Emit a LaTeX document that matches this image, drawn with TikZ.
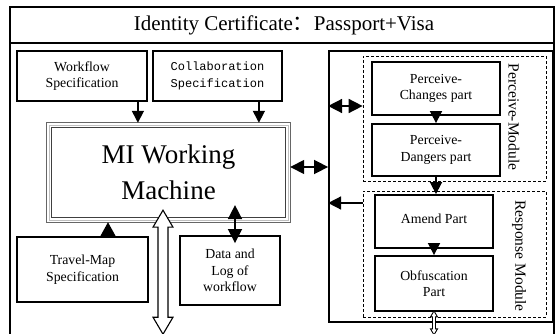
\documentclass[tikz,border=0pt]{standalone}
\usepackage{fontspec}
\setmainfont{Liberation Serif}
\newfontfamily\monofnt{Liberation Mono}
\newfontfamily\cjk{Noto Sans CJK SC}
\usetikzlibrary{arrows.meta,calc}
\begin{document}
\begin{tikzpicture}[x=1pt,y=-1pt,
  box/.style={draw,line width=1.8pt,fill=white,align=center,inner sep=0pt,
    font=\fontsize{13.8}{16.5}\selectfont},
  dbox/.style={draw,densely dashed,line width=0.7pt,inner sep=0pt},
  arr/.style={-{Triangle[length=12pt,width=12pt]},line width=1.6pt},
  darr/.style={{Triangle[length=14pt,width=14pt]}-{Triangle[length=14pt,width=14pt]},line width=1.6pt},
  hollow/.style={draw,fill=white,line width=1.1pt},
  vlbl/.style={rotate=-90,font=\fontsize{15.5}{18}\selectfont},
  mline/.style={line width=0.7pt}
]
\useasboundingbox (0,0) rectangle (555,334);
% outer frame
\draw[line width=1.8pt] (10,340) -- (10,7) -- (554,7) -- (554,340);
\draw[line width=1.8pt] (10,43) -- (554,43);
\node[font=\fontsize{21}{25}\selectfont] (title) at (284,25) {Identity Certificate{\cjk ：}Passport+Visa};

% left boxes
\node[box,minimum width=130pt,minimum height=50pt] (wf) at (82,76) {Workflow\\Specification};
\node[box,minimum width=129pt,minimum height=50pt,font=\monofnt\fontsize{12}{16.5}\selectfont] (col) at (217.5,76) {Collaboration\\Specification};
\node[minimum width=243pt,minimum height=99pt,inner sep=0pt,align=center,
  font=\fontsize{27}{36}\selectfont] (mi) at (168.5,172.5) {MI Working\\Machine};
\draw[mline,black!60] (mi.north west) rectangle (mi.south east);
\draw[mline,gray!50] ([shift={(2.2pt,-2.2pt)}]mi.north west) rectangle ([shift={(-2.2pt,2.2pt)}]mi.south east);
\draw[mline,black!75] ([shift={(4.4pt,-4.4pt)}]mi.north west) rectangle ([shift={(-4.4pt,4.4pt)}]mi.south east);
\node[box,minimum width=131pt,minimum height=65pt] (tm) at (82.5,269.5) {Travel-Map\\Specification};
\node[box,minimum width=100pt,minimum height=69pt] (data) at (230,270.5) {Data and\\Log of\\workflow};

% right module
\node[draw,line width=1.8pt,minimum width=224pt,minimum height=271pt,inner sep=0pt] (mod) at (441,186.5) {};
\node[dbox,minimum width=183pt,minimum height=125pt] (pm) at (454.5,118.5) {};
\node[dbox,minimum width=183pt,minimum height=126pt] (rm) at (454.5,254) {};
\node[box,minimum width=128pt,minimum height=53pt] (pc) at (436,88.5) {Perceive-\\Changes part};
\node[box,minimum width=128pt,minimum height=52pt] (pd) at (436,150) {Perceive-\\Dangers part};
\node[box,minimum width=118pt,minimum height=53pt] (am) at (434,221.5) {\raisebox{6pt}{Amend Part}};
\node[box,minimum width=118pt,minimum height=55pt] (ob) at (434,283.5) {Obfuscation\\Part};
\node[vlbl] (pml) at (514,117) {Perceive-Module};
\node[vlbl] (rml) at (519,256) {Response Module};

% arrows left side
\draw[arr] ([xshift=-10pt]wf.south east) -- ([xshift=-10pt]wf.south east |- mi.north);
\draw[arr] ([xshift=-24pt]col.south east) -- ([xshift=-24pt]col.south east |- mi.north);
\draw[-{Triangle[length=14pt,width=15pt]},line width=1.6pt] ([xshift=25.5pt]tm.north) -- ([xshift=25.5pt]tm.north |- mi.south);
\draw[darr] ($(data.north)+(5,-30)$) -- ($(data.north)+(5,8)$);
\coordinate (hatip) at ($(mi.south)+(-5.5,-12)$);
\draw[hollow] (hatip) -- ++(10,17) -- ++(-5,0) -- ++(0,90) -- ++(5,0) -- ++(-10,17)
  -- ++(-10,-17) -- ++(5,0) -- ++(0,-90) -- ++(-5,0) -- cycle;

% arrows right side
\draw[darr] (mi.east |- 0,167) -- (mod.west |- 0,167);
\draw[darr] (mod.west |- 0,106) -- (pm.west |- 0,106);
\draw[-{Triangle[length=13pt,width=13pt]},line width=1.6pt] (rm.west |- 0,203) -- (mod.west |- 0,203);
\draw[arr] (pc.south) -- (pd.north);
\draw[arr] (pd.south) -- ([xshift=2pt]am.north);
\draw[arr] (am.south) -- (ob.north);
\coordinate (hbtip) at ($(ob.south)+(0,-1)$);
\draw[hollow,line width=0.9pt] (hbtip) -- ++(3.5,6) -- ++(-2,0) -- ++(0,12) -- ++(2,0) -- ++(-3.5,6)
  -- ++(-3.5,-6) -- ++(2,0) -- ++(0,-12) -- ++(-2,0) -- cycle;
\end{tikzpicture}
\end{document}
